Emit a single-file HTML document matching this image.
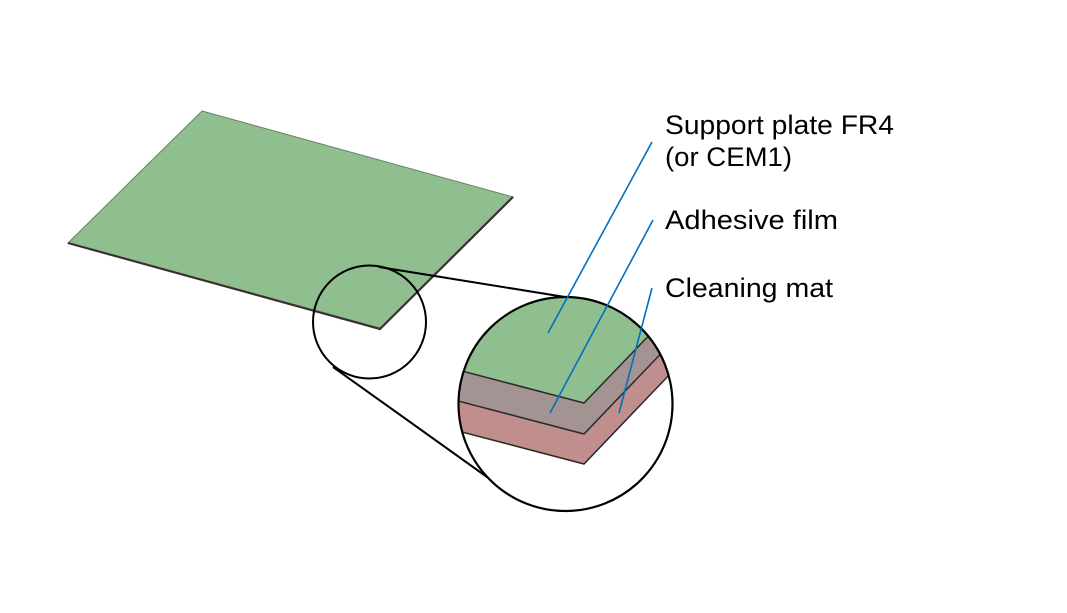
<!DOCTYPE html>
<html><head><meta charset="utf-8"><style>
html,body{margin:0;padding:0;background:#fff;}
svg{display:block;}
text{font-family:"Liberation Sans",sans-serif;font-size:27px;fill:#000;}
</style></head><body>
<svg width="1067" height="613" viewBox="0 0 1067 613" xmlns="http://www.w3.org/2000/svg">
<defs>
<clipPath id="cc"><circle cx="565.5" cy="404" r="107"/></clipPath>
</defs>
<!-- plate -->
<polygon points="202,111 513,197 380,328 68,243" fill="#8fbf8e" stroke="#6a7f6a" stroke-width="1"/>
<polyline points="68,243 380,329 513,197" fill="none" stroke="#3a3030" stroke-width="2.2"/>
<!-- small circle -->
<circle cx="369.5" cy="322" r="56.5" fill="none" stroke="#000" stroke-width="2"/>
<!-- connector lines -->
<line x1="379" y1="267" x2="565" y2="297" stroke="#000" stroke-width="2"/>
<line x1="333" y1="367" x2="494" y2="482" stroke="#000" stroke-width="2"/>
<!-- big circle content -->
<g clip-path="url(#cc)">
<rect x="440" y="280" width="260" height="260" fill="#fff"/>
<polygon points="420,360 584,403 760,220 420,220" fill="#8fbf8e"/>
<polygon points="420,360 584,403 760,220 760,250 584,434 420,391" fill="#a39392"/>
<polygon points="420,391 584,434 760,250 760,280 584,464 420,421" fill="#c08e8d"/>
<polyline points="420,360 584,403 760,220" fill="none" stroke="#2a2a2a" stroke-width="1.5"/>
<polyline points="420,391 584,434 760,250" fill="none" stroke="#2a2a2a" stroke-width="1.5"/>
<polyline points="420,421 584,464 760,280" fill="none" stroke="#2a2a2a" stroke-width="1.5"/>
</g>
<circle cx="565.5" cy="404" r="107" fill="none" stroke="#000" stroke-width="2.2"/>
<!-- blue leaders -->
<line x1="652" y1="142" x2="548" y2="333" stroke="#0070c0" stroke-width="1.6"/>
<line x1="653" y1="220" x2="550" y2="413" stroke="#0070c0" stroke-width="1.6"/>
<line x1="652" y1="288" x2="619" y2="413" stroke="#0070c0" stroke-width="1.6"/>
<!-- labels -->
<text x="665" y="134" textLength="229" lengthAdjust="spacingAndGlyphs">Support plate FR4</text>
<text x="665" y="166" textLength="127" lengthAdjust="spacingAndGlyphs">(or CEM1)</text>
<text x="665" y="229" textLength="173" lengthAdjust="spacingAndGlyphs">Adhesive film</text>
<text x="665" y="297" textLength="168" lengthAdjust="spacingAndGlyphs">Cleaning mat</text>
</svg>
</body></html>
